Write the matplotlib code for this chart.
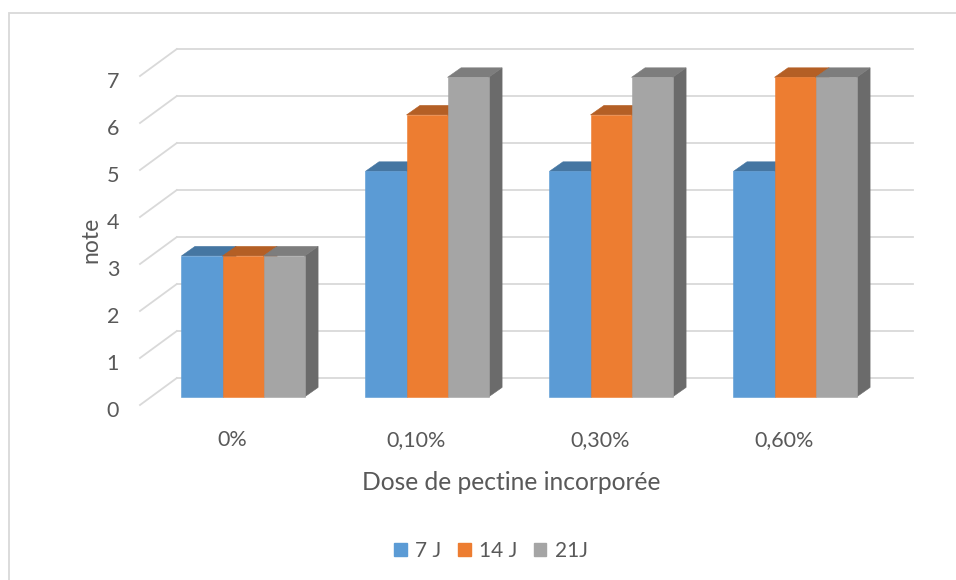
import matplotlib
matplotlib.use('Agg')
import matplotlib.pyplot as plt
from matplotlib.patches import Polygon, Patch, Rectangle
from matplotlib.transforms import ScaledTranslation

plt.rcParams['font.family'] = ['Lato', 'DejaVu Sans']

categories = ['0%', '0,10%', '0,30%', '0,60%']
series_names = ['7 J', '14 J', '21J']
j7 = [3, 4.8, 4.8, 4.8]
j14 = [3, 6, 6, 6.8]
j21 = [3, 6.8, 6.8, 6.8]
values = [j7, j14, j21]

colors = ['#5B9BD5', '#ED7D31', '#A5A5A5']
tops = ['#4576A2', '#B45F25', '#7D7D7D']
sides = ['#3B6590', '#9A5120', '#6B6B6B']
text_col = '#595959'
grid_col = '#D9D9D9'

# oblique projection: full floor depth and the slab each bar occupies
depth = (0.2, 0.574)
bar_front = 0.3
bar_depth = (0.0734, 0.202)
bar_w = 0.223
ymax = 7

fig = plt.figure(figsize=(9.56, 5.8), dpi=100)
ax = fig.add_axes([140 / 956, 175 / 580, 772.8 / 956, 366.6 / 580])
ax.set_xlim(-0.5, 3.7)
ax.set_ylim(0, 7.8)
for s in ax.spines.values():
    s.set_visible(False)

# gridlines: short diagonal on the side wall, then across the back wall
for v in range(ymax + 1):
    ax.plot([-0.5, -0.5 + depth[0]], [v, v + depth[1]], color=grid_col, lw=1.3,
            clip_on=False, zorder=1)
    ax.plot([-0.5 + depth[0], 3.5 + depth[0]], [v + depth[1], v + depth[1]],
            color=grid_col, lw=1.3, clip_on=False, zorder=1)

base = bar_front * depth[1]
shift = bar_front * depth[0]
dx, dy = bar_depth
z = 2
for k in range(len(categories)):
    for j, vals in enumerate(values):
        h = vals[k]
        x0 = k + shift + (j - 1.5) * bar_w
        x1 = x0 + bar_w
        top = base + h
        ax.add_patch(Polygon([(x1, base), (x1 + dx, base + dy), (x1 + dx, top + dy), (x1, top)],
                             closed=True, facecolor=sides[j], edgecolor=sides[j], lw=0.4, zorder=z))
        ax.add_patch(Polygon([(x0, top), (x1, top), (x1 + dx, top + dy), (x0 + dx, top + dy)],
                             closed=True, facecolor=tops[j], edgecolor=tops[j], lw=0.4, zorder=z))
        ax.bar(x0, h, width=bar_w, bottom=base, align='edge', color=colors[j],
               edgecolor=colors[j], lw=0.4, zorder=z + 1)
        z += 2

ax.set_yticks(range(ymax + 1))
ax.set_yticklabels([str(v) for v in range(ymax + 1)])
ax.set_xticks(range(len(categories)))
ax.set_xticklabels(categories)
ax.tick_params(axis='y', length=0, pad=15, labelsize=15.5, labelcolor=text_col)
ax.tick_params(axis='x', length=0, pad=18, labelsize=15.5, labelcolor=text_col)
off = ScaledTranslation(0, -4 / 100, fig.dpi_scale_trans)
for lbl in ax.get_yticklabels():
    lbl.set_transform(lbl.get_transform() + off)

fig.text(91 / 956, 1 - 240 / 580, 'note', rotation=90, ha='center', va='center',
         fontsize=16.5, color=text_col)
fig.text(511 / 956, 1 - 482 / 580, 'Dose de pectine incorporée', ha='center', va='center',
         fontsize=17.7, color=text_col)

handles = [Patch(facecolor=c, edgecolor=c) for c in colors]
fig.legend(handles, series_names, loc='center', bbox_to_anchor=(491 / 956, 1 - 551 / 580),
           ncol=3, frameon=False, fontsize=15, labelcolor=text_col,
           handlelength=0.6, handleheight=0.6, handletextpad=0.4, columnspacing=0.8)

fig.add_artist(Rectangle((9 / 956, -0.1), 1.2, 1.1 - 13 / 580, transform=fig.transFigure,
                         fill=False, edgecolor=grid_col, lw=1.3))

fig.savefig('out.png', dpi=100)
